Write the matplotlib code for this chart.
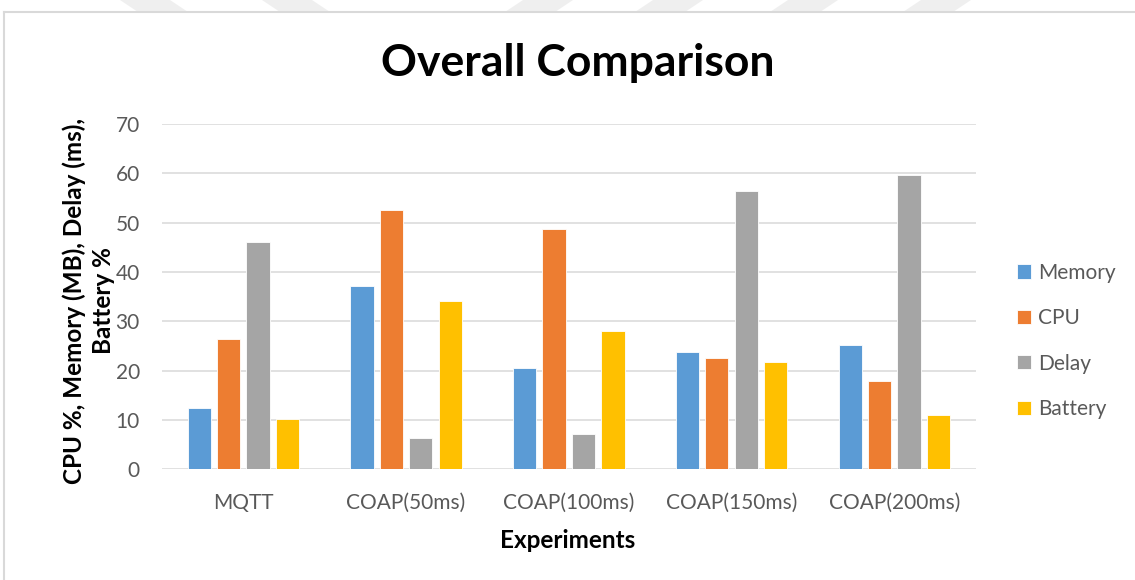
#!/usr/bin/env python3
# Overall comparison of MQTT and CoAP runs, Excel-like grouped bars.

import matplotlib.pyplot as plt
import numpy as np
from matplotlib.patches import Polygon
from matplotlib.lines import Line2D

experiments = ["MQTT", "COAP(50ms)", "COAP(100ms)", "COAP(150ms)", "COAP(200ms)"]
series_names = ["Memory", "CPU", "Delay", "Battery"]
memory = [12.5, 37.1, 20.5, 23.7, 25.1]
cpu = [26.4, 52.5, 48.8, 22.5, 17.8]
delay = [46.1, 6.3, 7.1, 56.4, 59.6]
battery = [10.2, 34.2, 28.0, 21.8, 11.1]
colors = ["#5B9BD5", "#ED7D31", "#A5A5A5", "#FFC000"]

plt.rcParams["font.family"] = ["Lato", "DejaVu Sans"]

W, H = 1135, 580
fig = plt.figure(figsize=(W / 100, H / 100), dpi=100)
fig.patch.set_facecolor("white")

# faint page watermark above the chart frame
for x0, slant in [(120, 1), (262, 1), (505, -1), (635, -1), (770, -1), (903, -1)]:
    if slant > 0:
        pts = [(x0, 0), (x0 + 50, 0), (x0 + 68, 12), (x0 + 18, 12)]
    else:
        pts = [(x0 + 18, 0), (x0 + 68, 0), (x0 + 50, 12), (x0, 12)]
    pts = [(px / W, 1 - py / H) for px, py in pts]
    fig.patches.append(Polygon(pts, closed=True, transform=fig.transFigure,
                               facecolor="#EFEFEF", edgecolor="none"))

# chart frame (only top and left edges are visible)
fig.lines.append(Line2D([4 / W, 1], [1 - 12 / H, 1 - 12 / H], transform=fig.transFigure,
                        color="#D9D9D9", linewidth=1.5))
fig.lines.append(Line2D([4 / W, 4 / W], [0, 1 - 12 / H], transform=fig.transFigure,
                        color="#D9D9D9", linewidth=1.5))

ax = fig.add_axes([162 / W, 1 - 469.3 / H, 813.7 / W, 345.3 / H])

x = np.arange(len(experiments))
values = [memory, cpu, delay, battery]
pitch = 0.181
width = 0.143
for i, (name, vals) in enumerate(zip(series_names, values)):
    ax.bar(x + (i - 1.5) * pitch, vals, width=width, color=colors[i],
           edgecolor="white", linewidth=0.6, label=name, zorder=3)

ax.set_xlim(-0.5, len(experiments) - 0.5)
ax.set_ylim(0, 70)
ax.set_yticks(range(0, 71, 10))
ax.set_xticks(x)
ax.set_xticklabels(experiments)
ax.grid(axis="y", color="#D9D9D9", linewidth=1.1, zorder=0)
for s in ax.spines.values():
    s.set_visible(False)
ax.tick_params(axis="both", length=0, labelsize=15, labelcolor="#595959")
ax.tick_params(axis="y", pad=16)
ax.tick_params(axis="x", pad=17)

fig.text(578 / W, 1 - 63 / H, "Overall Comparison", ha="center", va="center",
         fontsize=32, fontweight="bold")
fig.text(568 / W, 1 - 540 / H, "Experiments", ha="center", va="center",
         fontsize=17.5, fontweight="bold")
fig.text(89 / W, 1 - 301 / H, "CPU %, Memory (MB), Delay (ms),\nBattery %",
         ha="center", va="center", rotation=90, multialignment="center",
         fontsize=17.5, fontweight="bold", linespacing=1.3)

leg = ax.legend(loc="center left", bbox_to_anchor=(1017 / W, 1 - 341 / H),
                bbox_transform=fig.transFigure, frameon=False, fontsize=15,
                handlelength=0.67, handleheight=0.67, handletextpad=0.35,
                labelspacing=1.22, borderpad=0, borderaxespad=0)
for t in leg.get_texts():
    t.set_color("#595959")

fig.savefig("out.png", dpi=100, facecolor="white")
